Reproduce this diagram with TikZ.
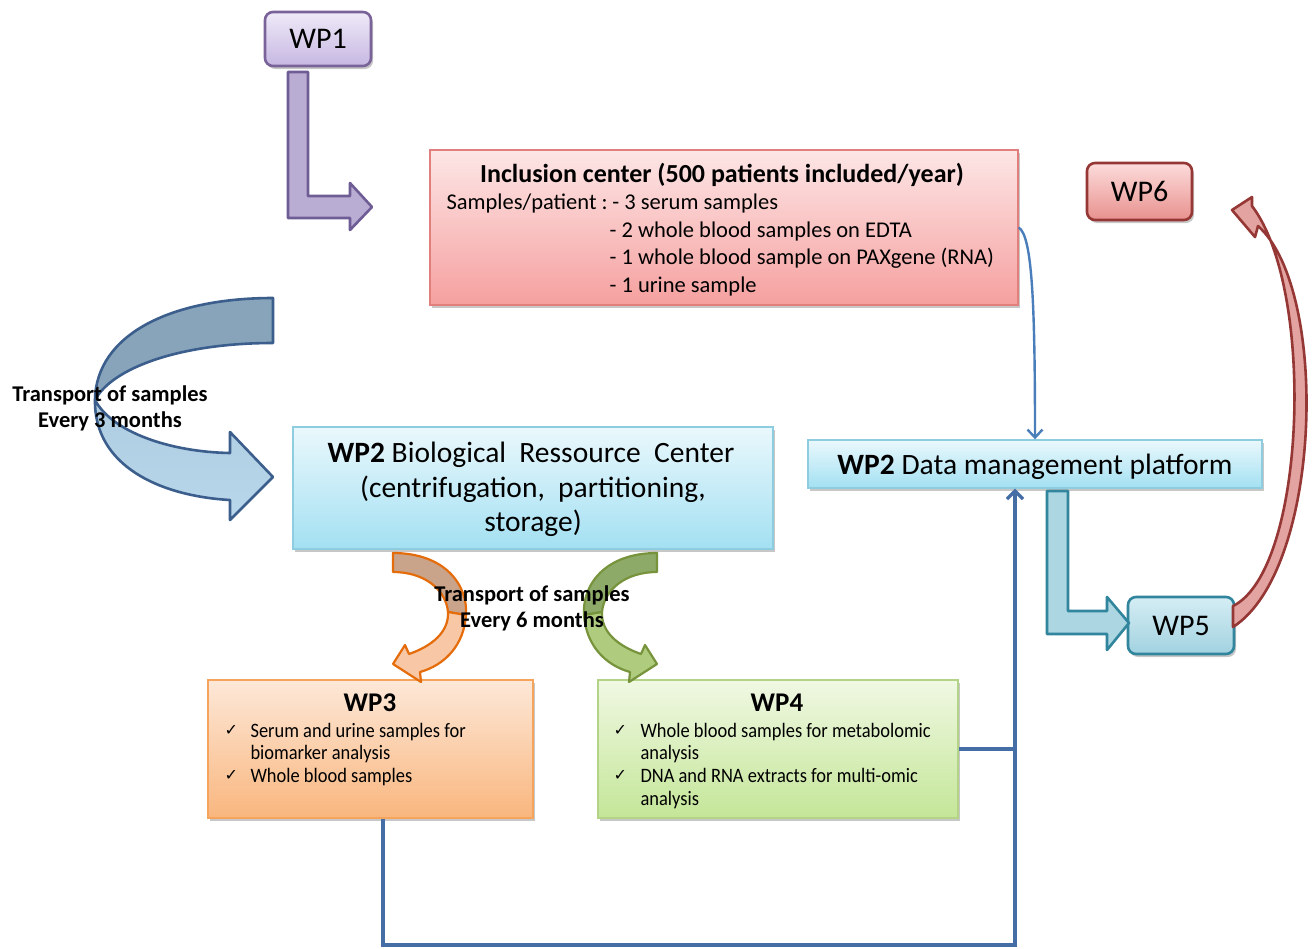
\documentclass[tikz,border=0pt]{standalone}
\usepackage{fontspec}
\setmainfont{Carlito}
\newfontfamily\narrowfont{Carlito}[FakeStretch=0.9]
\newfontfamily\symfont{DejaVu Sans}
\usetikzlibrary{arrows.meta,shadows}
\definecolor{purB}{HTML}{7A6399}
\definecolor{purT}{HTML}{EFEAF8}
\definecolor{purBo}{HTML}{C6B7E2}
\definecolor{purArrow}{HTML}{BAADD4}
\definecolor{purArrowB}{HTML}{6E5C94}
\definecolor{incB}{HTML}{E07F7C}
\definecolor{incT}{HTML}{FDE6E6}
\definecolor{incBo}{HTML}{F5A09F}
\definecolor{redB}{HTML}{953735}
\definecolor{redT}{HTML}{FCDCDB}
\definecolor{redBo}{HTML}{E8918E}
\definecolor{redArrow}{HTML}{E3A3A1}
\definecolor{cyB}{HTML}{8ECDE0}
\definecolor{cyT}{HTML}{EAF8FC}
\definecolor{cyBo}{HTML}{A3E0F2}
\definecolor{tealB}{HTML}{31859C}
\definecolor{tealT}{HTML}{D5EDF4}
\definecolor{tealBo}{HTML}{A2D2E0}
\definecolor{tealArrow}{HTML}{ABD6E2}
\definecolor{orB}{HTML}{F6A35C}
\definecolor{orT}{HTML}{FDE8D8}
\definecolor{orBo}{HTML}{F9B67E}
\definecolor{orArrowB}{HTML}{E46C0A}
\definecolor{orBack}{HTML}{C9A48B}
\definecolor{orFront}{HTML}{F8C7A5}
\definecolor{grB}{HTML}{B3D386}
\definecolor{grT}{HTML}{F0F8E3}
\definecolor{grBo}{HTML}{C4E698}
\definecolor{grArrowB}{HTML}{77933C}
\definecolor{grBack}{HTML}{8DAA68}
\definecolor{grFront}{HTML}{AECB7E}
\definecolor{bigB}{HTML}{3B5E8C}
\definecolor{bigBack}{HTML}{87A4BA}
\definecolor{bigFront}{HTML}{B8D7EB}
\definecolor{lineBlue}{HTML}{456EA6}
\definecolor{thinBlue}{HTML}{4A7EBB}
\tikzset{
  box/.style={draw, line width=1.4pt, inner sep=0pt,
    drop shadow={shadow xshift=2pt, shadow yshift=-3pt, opacity=0.22, fill=black}},
  rbox/.style={box, rounded corners=8pt, line width=2.6pt},
  bigtxt/.style={font=\fontsize{29.5}{34}\selectfont},
  bodytxt/.style={font=\fontsize{22.5}{27}\selectfont},
  bultxt/.style={font=\narrowfont\fontsize{20.5}{23}\selectfont},
  chk/.style={font=\symfont\fontsize{16}{18}\selectfont},
  transp/.style={font=\bfseries\fontsize{22.5}{26}\selectfont, align=center},
  conn/.style={draw=lineBlue, line width=3.3pt},
  blockarrow/.style={line width=2.6pt, line join=round}
}
\begin{document}
\begin{tikzpicture}[x=1pt,y=-1pt]
\useasboundingbox (0,0) rectangle (1314,948);
\fill[white] (0,0) rectangle (1314,948);

% ---- boxes ----
\node[rbox, draw=purB, top color=purT, bottom color=purBo, minimum width=106, minimum height=54, font=\fontsize{30}{34}\selectfont] (wp1) at (318,39) {WP1};
\node[box, draw=incB, top color=incT, bottom color=incBo, minimum width=588, minimum height=155] (inc) at (724,227.5) {};
\node[rbox, draw=redB, top color=redT, bottom color=redBo, minimum width=105, minimum height=57, font=\fontsize{30}{34}\selectfont] (wp6) at (1139.5,191.5) {WP6};
\node[box, draw=cyB, top color=cyT, bottom color=cyBo, minimum width=454, minimum height=48] (dmp) at (1035,464) {};
\node[box, draw=cyB, top color=cyT, bottom color=cyBo, minimum width=480, minimum height=122] (brc) at (533,488) {};
\node[rbox, draw=tealB, top color=tealT, bottom color=tealBo, minimum width=106, minimum height=57, font=\fontsize{30}{34}\selectfont] (wp5) at (1181,625.5) {WP5};
\node[box, draw=orB, top color=orT, bottom color=orBo, minimum width=325, minimum height=138] (wp3) at (370.5,749) {};
\node[box, draw=grB, top color=grT, bottom color=grBo, minimum width=360, minimum height=138] (wp4) at (778,749) {};

% ---- texts ----
\node[anchor=base, font=\bfseries\fontsize{26}{30}\selectfont] (inct) at (722,182) {Inclusion center (500 patients included/year)};
\node[anchor=base west, bodytxt] (inc1) at (443,209) {Samples/patient :\kern-2pt{} - 3 serum samples};
\node[anchor=base west, bodytxt] (inc2) at (606,237) {- 2 whole blood samples on EDTA};
\node[anchor=base west, bodytxt] (inc3) at (606,264.5) {- 1 whole blood sample on PAXgene (RNA)};
\node[anchor=base west, bodytxt] (inc4) at (606,292) {- 1 urine sample};

\node[anchor=base, bigtxt] (dmpt) at (1035,474) {\textbf{WP2} Data\ management\ platform};
\node[anchor=base, bigtxt] (brc1) at (531,462) {\textbf{WP2} Biological\ \ Ressource\ \ Center};
\node[anchor=base, bigtxt] (brc2) at (533,497) {(centrifugation,\ \ partitioning,};
\node[anchor=base, bigtxt] (brc3) at (533,531) {storage)};

\node[anchor=base, font=\bfseries\fontsize{27}{30}\selectfont] (wp3t) at (370,711) {WP3};
\node[anchor=base west, chk] (c31) at (221,735) {✓};
\node[anchor=base west, bultxt] (b31) at (247,737) {Serum and urine samples for};
\node[anchor=base west, bultxt] (b32) at (247,759.5) {biomarker analysis};
\node[anchor=base west, chk] (c32) at (221,780) {✓};
\node[anchor=base west, bultxt] (b33) at (247,782) {Whole blood samples};

\node[anchor=base, font=\bfseries\fontsize{27}{30}\selectfont] (wp4t) at (777,711) {WP4};
\node[anchor=base west, chk] (c41) at (610,735) {✓};
\node[anchor=base west, bultxt] (b41) at (637,737) {Whole blood samples for metabolomic};
\node[anchor=base west, bultxt] (b42) at (637,759.5) {analysis};
\node[anchor=base west, chk] (c42) at (610,780) {✓};
\node[anchor=base west, bultxt] (b43) at (637,782) {DNA and RNA extracts for multi-omic};
\node[anchor=base west, bultxt] (b44) at (637,805) {analysis};

% ---- WP1 elbow block arrow ----
\draw[blockarrow, draw=purArrowB, fill=purArrow]
  (288,72) -- (308,72) -- (308,196) -- (350,196) -- (350,183) -- (372,207)
  -- (350,230) -- (350,218) -- (288,218) -- cycle;

% ---- teal elbow block arrow (data platform -> WP5) ----
\draw[blockarrow, draw=tealB, fill=tealArrow]
  (1047,491) -- (1068,491) -- (1068,611) -- (1107,611) -- (1107,597) -- (1129,623)
  -- (1107,650) -- (1107,634) -- (1047,634) -- cycle;

% ---- big left curved arrow (transport every 3 months) ----
\draw[blockarrow, draw=bigB, fill=bigBack]
  (273,298) .. controls (170,298) and (96,335) .. (95,400)
  .. controls (112,368) and (180,343) .. (273,343) -- cycle;
\draw[blockarrow, draw=bigB, top color=bigFront!80!bigBack, bottom color=bigFront]
  (95,400) .. controls (94,466) and (160,496) .. (230,500) -- (230,520) -- (273,477)
  -- (230,432) -- (230,453) .. controls (170,452) and (112,432) .. (95,400) -- cycle;
\node[transp] (tr3) at (110,408) {Transport of samples\\Every 3 months};

% ---- orange curved arrow ----
\draw[blockarrow, line width=2.2pt, draw=orArrowB, fill=orBack]
  (393,553) .. controls (445,553) and (468,585) .. (466,615)
  -- (448,612) .. controls (446,590) and (425,572) .. (393,572) -- cycle;
\draw[blockarrow, line width=2.2pt, draw=orArrowB, fill=orFront]
  (466,615) .. controls (464,645) and (445,665) .. (420,672) -- (421,682) -- (393,664)
  -- (405,645) -- (409,654) .. controls (432,646) and (449,632) .. (448,612) -- cycle;

% ---- green curved arrow ----
\draw[blockarrow, line width=2.2pt, draw=grArrowB, fill=grBack]
  (657,553) .. controls (605,553) and (582,585) .. (584,615)
  -- (602,612) .. controls (604,590) and (625,572) .. (657,572) -- cycle;
\draw[blockarrow, line width=2.2pt, draw=grArrowB, fill=grFront]
  (584,615) .. controls (586,645) and (605,665) .. (630,672) -- (629,682) -- (657,664)
  -- (645,645) -- (641,654) .. controls (618,646) and (601,632) .. (602,612) -- cycle;
\node[transp] (tr6) at (532,608) {Transport of samples\\Every 6 months};

% ---- red curved arrow WP5 -> WP6 ----
\draw[blockarrow, draw=redB, fill=redArrow]
  (1233,627) .. controls (1322,570) and (1330,290) .. (1258,226)
  -- (1255,237) -- (1232,210) -- (1252,197) -- (1252,206)
  .. controls (1316,290) and (1306,570) .. (1233,606) -- cycle;

% ---- thin blue arrow inclusion -> data platform ----
\draw[draw=thinBlue, line width=2.4pt, -{Straight Barb[length=8pt,width=15pt]}]
  (inc.east) .. controls (1032,236) and (1035,300) .. (dmp.north);

% ---- blue connectors WP3/WP4 -> data platform ----
\coordinate (jb) at (1015,945);
\draw[conn, -{Straight Barb[length=8pt,width=16pt]}]
  ([xshift=12.5pt]wp3.south) |- (jb) -- (jb |- dmp.south);
\draw[conn] (wp4.east) -- (wp4.east -| jb);
\end{tikzpicture}
\end{document}
